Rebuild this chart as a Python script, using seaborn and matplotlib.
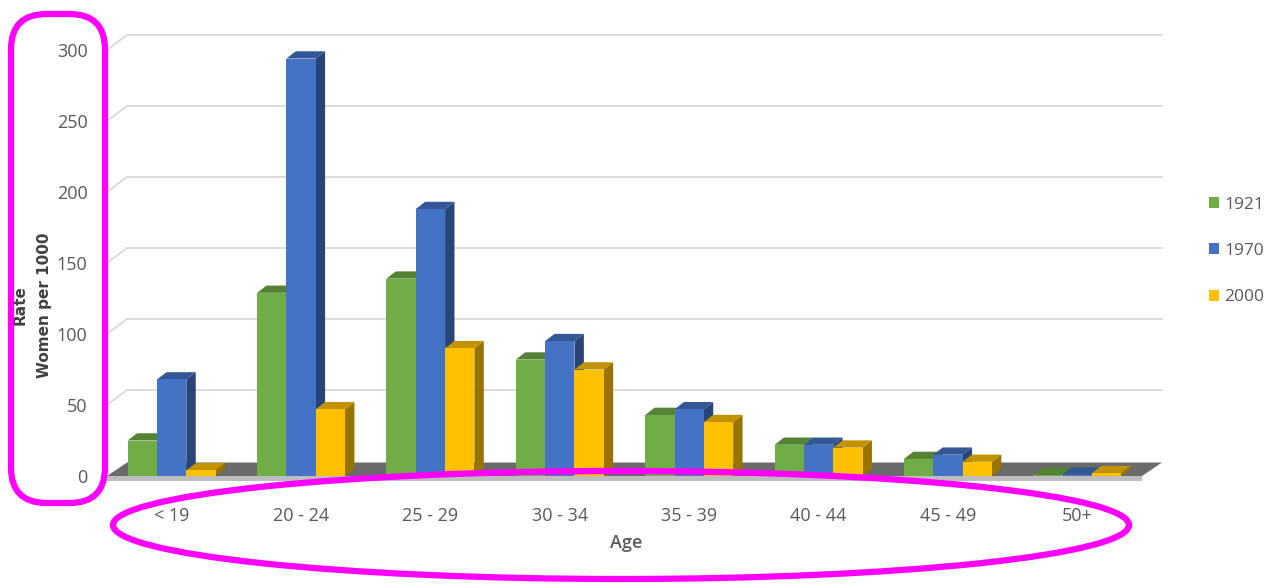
import matplotlib
matplotlib.use("Agg")
import matplotlib.pyplot as plt
import seaborn as sns
import pandas as pd
import numpy as np
from matplotlib.patches import Polygon, FancyBboxPatch, Ellipse
from matplotlib.lines import Line2D
from matplotlib.colors import to_rgb

# ---- data ----
ages = ["< 19", "20 - 24", "25 - 29", "30 - 34", "35 - 39", "40 - 44", "45 - 49", "50+"]
years = ["1921", "1970", "2000"]
rate_1921 = [25, 129, 139, 82, 43, 22, 12, 1]
rate_1970 = [68, 294, 188, 95, 47, 22, 15, 1]
rate_2000 = [4, 47, 90, 75, 38, 20, 10, 2]
y_ticks = [0, 50, 100, 150, 200, 250, 300]

df = pd.DataFrame({
    "Age": ages * 3,
    "Year": [years[0]] * 8 + [years[1]] * 8 + [years[2]] * 8,
    "Rate": rate_1921 + rate_1970 + rate_2000,
})

front = {"1921": "#70AD47", "1970": "#4472C4", "2000": "#FFC000"}

def shade(c, f):
    r, g, b = to_rgb(c)
    return (r * f, g * f, b * f)

sns.set_theme(style="white")
plt.rcParams["font.family"] = ["Open Sans", "DejaVu Sans"]

fig = plt.figure(figsize=(12.68, 5.84), dpi=100)
W, H = 1268, 584
ax_left, ax_right = 107 / W, 1142 / W
ax_bottom, ax_top = 1 - 476 / H, 1 - 50 / H
ax = fig.add_axes([ax_left, ax_bottom, ax_right - ax_left, ax_top - ax_bottom])
ax.set_facecolor("none")
ax.set_zorder(2)

sns.barplot(data=df, x="Age", y="Rate", hue="Year", palette=front,
            order=ages, hue_order=years, width=0.68, saturation=1,
            edgecolor="none", linewidth=0, ax=ax, legend=True, zorder=3)

ax.set_ylim(0, 300)
ax.set_xlim(-0.5, 7.5)
ax.set_yticks(y_ticks)
ax.grid(False)

# depth offset of the back wall (pixels)
DX, DY = 20, 15
to_fig = fig.transFigure.inverted()

def fig_pt(px):
    return to_fig.transform(px)

x0, x1 = ax.get_xlim()
# back-wall gridlines with slanted connectors
for v in y_ticks[1:]:
    p0 = ax.transData.transform((x0, v))
    p1 = ax.transData.transform((x1, v))
    a = fig_pt(p0)
    b = fig_pt((p0[0] + DX, p0[1] + DY))
    c = fig_pt((p1[0] + DX, p1[1] + DY))
    fig.lines.append(Line2D([a[0], b[0], c[0]], [a[1], b[1], c[1]],
                            transform=fig.transFigure, color="#d9d9d9",
                            linewidth=1.3, zorder=0))

# floor slab (behind the axes, which has a transparent background)
f0 = ax.transData.transform((x0, 0))
f1 = ax.transData.transform((x1, 0))
floor_top = Polygon([fig_pt(f0), fig_pt(f1),
                     fig_pt((f1[0] + DX, f1[1] + DY * 0.9)),
                     fig_pt((f0[0] + DX, f0[1] + DY * 0.9))],
                    closed=True, transform=fig.transFigure,
                    facecolor="#6a6a6a", edgecolor="none", zorder=1)
floor_edge = Polygon([fig_pt((f0[0], f0[1])), fig_pt((f1[0], f1[1])),
                      fig_pt((f1[0], f1[1] - 5)), fig_pt((f0[0], f0[1] - 5))],
                     closed=True, transform=fig.transFigure,
                     facecolor="#bdbdbd", edgecolor="none", zorder=1)
fig.patches.extend([floor_top, floor_edge])

# pseudo-3D faces derived from bar geometry
bars = [p for p in ax.patches if p.get_width() > 0][:24]
for p in bars:
    x, w, h = p.get_x(), p.get_width(), p.get_height()
    col = p.get_facecolor()[:3]
    dx = w * 0.32
    dy = 300 * 0.017
    top = Polygon([(x, h), (x + w, h), (x + w + dx, h + dy), (x + dx, h + dy)],
                  closed=True, facecolor=shade(col, 0.76), edgecolor="none", zorder=2.9)
    side = Polygon([(x + w, 0), (x + w + dx, dy), (x + w + dx, h + dy), (x + w, h)],
                   closed=True, facecolor=shade(col, 0.6), edgecolor="none", zorder=2.8)
    ax.add_patch(top)
    ax.add_patch(side)

for s in ax.spines.values():
    s.set_visible(False)
ax.tick_params(axis="y", length=0, pad=14, labelsize=13, labelcolor="#595959")
ax.tick_params(axis="x", length=0, pad=22, labelsize=13, labelcolor="#595959")
ax.set_xlabel("")
ax.set_ylabel("")

fig.text(626 / W, 1 - 543 / H, "Age", ha="center", va="center",
         fontsize=13, color="#595959", fontweight="semibold")
fig.text(20 / W, 1 - 305 / H, "Rate", ha="center", va="center", rotation=90,
         fontsize=11, color="#404040", fontweight="bold", family="DejaVu Sans")
fig.text(45 / W, 1 - 305 / H, "Women per 1000", ha="center", va="center", rotation=90,
         fontsize=11, color="#404040", fontweight="bold", family="DejaVu Sans")

# legend
handles, labels = ax.get_legend_handles_labels()
ax.legend_.remove()
leg = fig.legend(handles, labels, loc="center left",
                 bbox_to_anchor=(1193 / W, 1 - 251 / H), frameon=False,
                 handlelength=0.6, handleheight=0.6, handletextpad=0.3,
                 labelspacing=1.75, fontsize=12.5)
for t in leg.get_texts():
    t.set_color("#595959")

# magenta annotation marks
box = FancyBboxPatch((11 / W, 1 - 503 / H), 94 / W, 489 / H,
                     boxstyle="round,pad=0,rounding_size=0.028",
                     transform=fig.transFigure, fill=False,
                     edgecolor="#FF00FF", linewidth=4.5, mutation_aspect=W / H,
                     zorder=10)
fig.patches.append(box)
ell = Ellipse((621 / W, 1 - 525 / H), 1016 / W, 108 / H,
              transform=fig.transFigure, fill=False,
              edgecolor="#FF00FF", linewidth=4.5, zorder=10)
fig.patches.append(ell)

fig.savefig("out.png", dpi=100)
